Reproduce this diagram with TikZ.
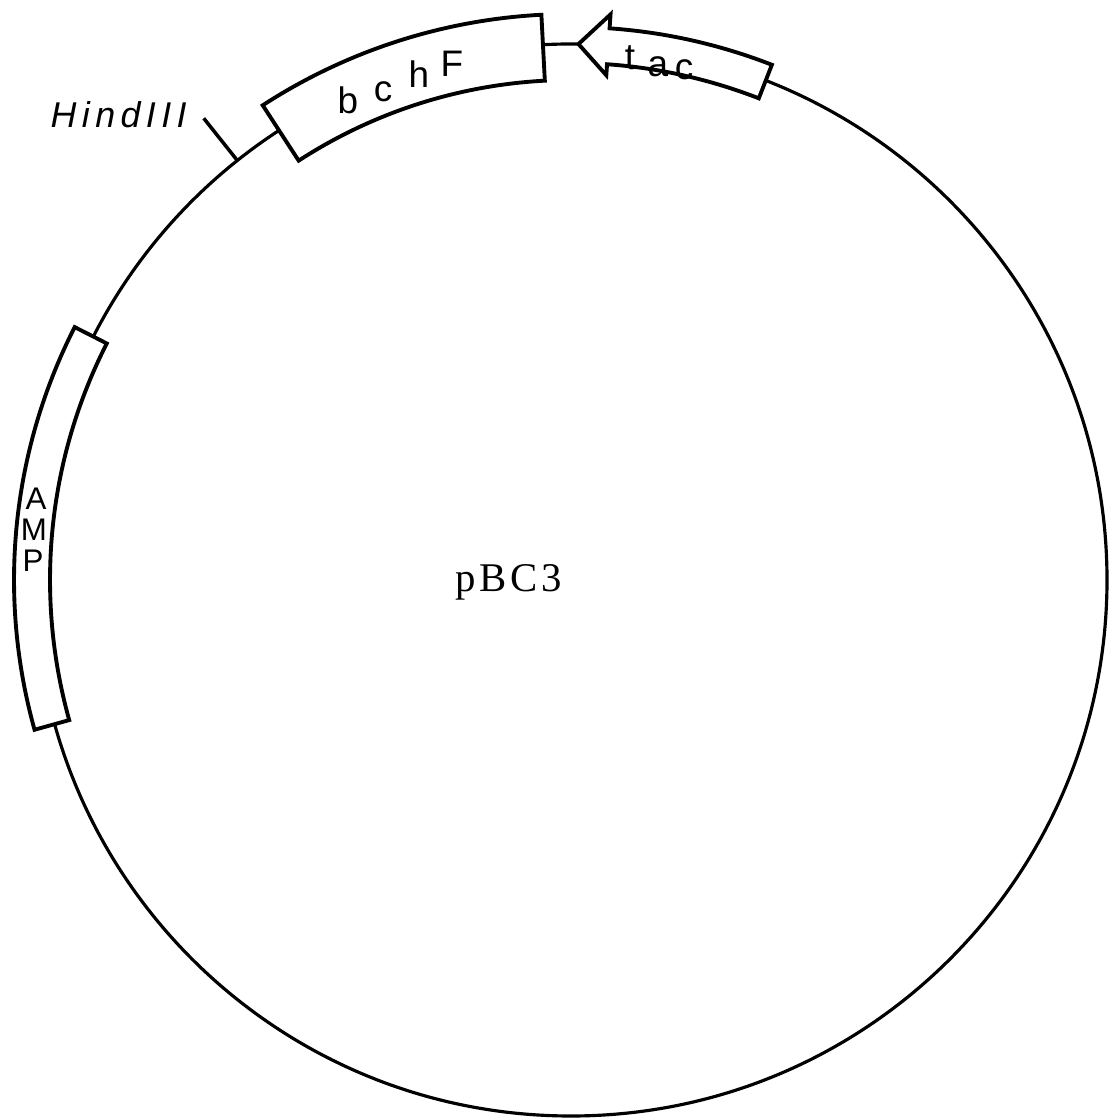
\documentclass[tikz,border=0pt]{standalone}
\usepackage{fontspec}
\newfontfamily\labelsans{Liberation Sans}
\newfontfamily\sitesans[LetterSpace=15]{Liberation Sans}
\newfontfamily\mapserif[LetterSpace=9]{Liberation Serif}
\tikzset{
  plasmid/.style={line width=0.9pt},
  genebox/.style={line width=1.1pt, fill=white, line join=miter},
  sitetick/.style={line width=1pt},
  geneletter/.style={font=\labelsans\fontsize{10.5}{12}\selectfont, inner sep=0pt, anchor=base},
  ampletter/.style={font=\labelsans\fontsize{8.9}{10}\selectfont, inner sep=0pt},
  sitelabel/.style={font=\sitesans\itshape\fontsize{10.2}{12}\selectfont, inner sep=0pt, anchor=base west},
  maplabel/.style={font=\mapserif\fontsize{11.6}{13}\selectfont, inner sep=0pt, anchor=base},
}
\begin{document}
\begin{tikzpicture}
\useasboundingbox (0,0) rectangle (11.2,11.2);
\coordinate (C) at (5.71,5.40);
\begin{scope}[shift={(C)}]
  % backbone
  \draw[plasmid] (0,0) circle[radius=5.36];
  % HindIII site
  \coordinate (hindOn) at (128.5:5.36);
  \coordinate (hindOut) at (128.5:5.90);
  \draw[sitetick] (hindOn) -- (hindOut);
  % bchF gene
  \draw[genebox] (123:5.00) arc[start angle=123, end angle=93, radius=5.00]
    -- (93:5.66) arc[start angle=93, end angle=123, radius=5.66] -- cycle;
  % tac promoter arrow
  \draw[genebox] (89.2:5.36) -- (86:5.67) -- (86:5.53)
    arc[start angle=86, end angle=68.7, radius=5.53]
    -- (68.7:5.17) arc[start angle=68.7, end angle=86, radius=5.17]
    -- (86:5.06) -- cycle;
  % AMP gene
  \draw[genebox] (153:5.21) arc[start angle=153, end angle=195.6, radius=5.21]
    -- (195.6:5.57) arc[start angle=195.6, end angle=153, radius=5.57] -- cycle;
\end{scope}
% labels
\node[sitelabel] (hind) at (0.50,9.92) {HindIII};
\node[geneletter] (bchF1) at (3.48,10.06) {b};
\node[geneletter] (bchF2) at (3.83,10.18) {c};
\node[geneletter] (bchF3) at (4.19,10.32) {h};
\node[geneletter] (bchF4) at (4.52,10.43) {F};
\node[geneletter] (tac1) at (6.30,10.50) {t};
\node[geneletter] (tac2) at (6.58,10.43) {a};
\node[geneletter] (tac3) at (6.84,10.40) {c};
\node[ampletter] (amp1) at (0.36,6.21) {A};
\node[ampletter] (amp2) at (0.34,5.90) {M};
\node[ampletter] (amp3) at (0.33,5.59) {P};
\node[maplabel] (name) at (5.085,5.28) {pBC3};
\end{tikzpicture}
\end{document}
